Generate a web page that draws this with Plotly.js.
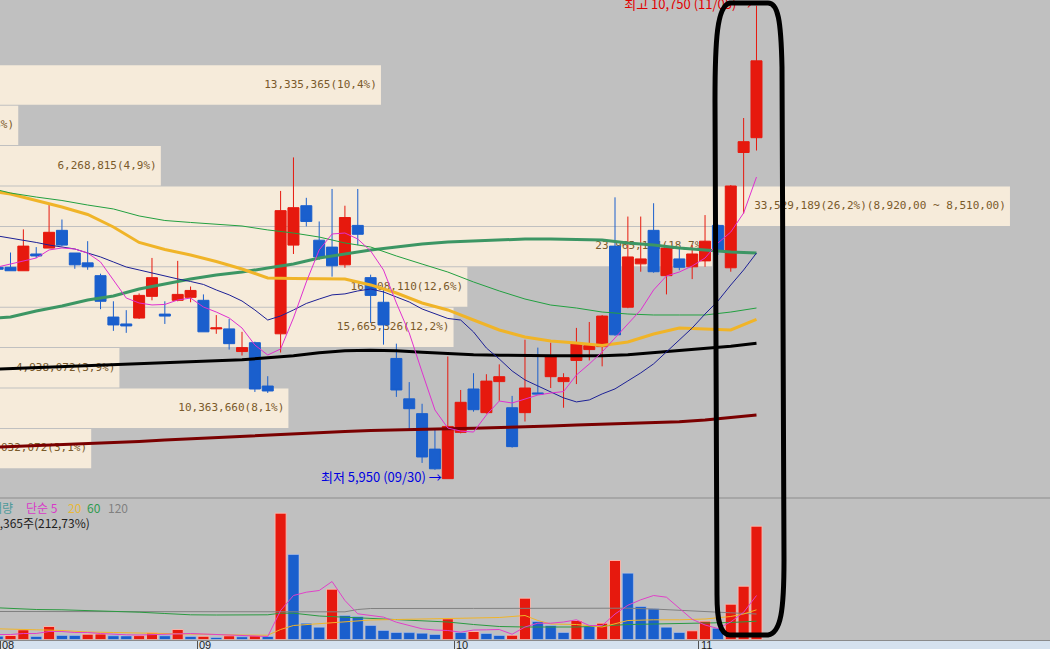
<!DOCTYPE html>
<html><head><meta charset="utf-8">
<script src="https://cdn.plot.ly/plotly-3.0.1.min.js"></script>
<style>html,body{margin:0;padding:0;background:#C0C0C0;overflow:hidden}#chart{width:1050px;height:649px}</style>
</head><body><div id="chart"></div>
<script>
// ---------- data ----------
const candleIdx = [-1,0,1,2,3,4,5,6,7,8,9,10,11,12,13,14,15,16,17,18,19,20,21,22,23,24,25,26,27,28,29,30,31,32,33,34,35,36,37,38,39,40,41,42,43,44,45,46,47,48,49,50,51,52,53,54,55,56,57,58];
const openP  = [8095,8095,8060,8230,8290,8470,8240,8140,8010,7590,7520,7580,7800,7620,7760,7790,7760,7470,7470,7240,7330,6890,7420,8320,8720,8370,8300,8120,8520,7990,7740,7170,6760,6610,6250,5950,6420,6860,6620,6935,6670,6620,6820,6985,6935,7150,7260,7290,8310,7690,8130,8470,8010,8180,8100,8160,8520,8090,9260,9410];
const highP  = [8110,8245,8480,8300,8730,8580,8240,8360,8030,7750,7660,7830,8190,7750,8160,7900,7820,7610,7570,7440,7340,6990,8870,9210,8800,8560,8890,8720,8890,8020,7870,7320,6930,6710,6460,7190,6850,7020,7010,7110,6790,7360,7280,7330,7020,7480,7540,7610,8805,8610,8610,8745,8290,8290,8320,8625,8530,8930,9610,10750];
const lowP   = [8060,8060,8060,8190,8290,8310,8080,8070,7670,7450,7430,7570,7760,7520,7750,7740,7440,7420,7260,7200,6830,6820,7230,8230,8510,8170,8000,8090,8320,7530,7310,6780,6450,6110,6040,5950,6410,6630,6610,6740,6265,6530,6810,6870,6670,6910,7150,7090,7400,7680,8050,8040,7820,8065,7975,8100,8220,8050,8640,9280];
const closeP = [8075,8060,8310,8210,8450,8320,8120,8100,7750,7510,7500,7810,7990,7600,7820,7860,7440,7480,7320,7280,6860,6840,8670,8700,8560,8200,8110,8600,8430,7810,7510,6850,6660,6170,6050,6480,6725,6650,6940,6985,6275,6870,6810,7190,6975,7330,7300,7600,7410,8200,8180,8050,8290,8095,8230,8360,8270,8920,9370,10190];
const volume = [376000,455600,1104900,341700,1480800,456000,452000,603700,626500,421400,410000,444200,763200,421400,1139000,341700,364500,227800,421400,307500,421400,341700,14386000,9681800,1856600,1401000,5729400,2733700,2619800,1594700,1025100,797300,785900,717600,569500,2357800,797300,911200,683400,455600,489800,4704200,2050300,1594700,797300,2164200,1480800,1856600,8998400,7551800,3758800,3496900,1401000,797300,991000,2084400,1287100,4020800,6066547,12905365];

// price moving averages
const ma5  = [8098,8128,8159,8189,8271,8291,8281,8240,8149,7966,7783,7733,7713,7718,7763,7783,7692,7641,7581,7479,7306,7205,7266,7581,7946,8271,8433,8443,8382,8261,8068,7733,7429,7032,6647,6464,6433,6423,6596,6738,6718,6758,6799,6819,6834,7002,7114,7236,7378,7530,7662,7865,8007,8047,8108,8189,8341,8453,8646,9011];
const ma10 = [8413,8392,8372,8347,8321,8301,8281,8240,8200,8149,8098,8068,8037,8002,7977,7951,7921,7865,7815,7753,7662,7560,7601,7662,7728,7773,7815,7825,7855,7875,7845,7794,7743,7672,7621,7576,7560,7439,7276,7165,7043,6952,6891,6830,6770,6729,6749,6810,6861,6942,7023,7115,7236,7348,7479,7621,7753,7915,8068,8240];
const maLongIdx = [-1,0,2,4,6,8,10,12,14,16,18,20,22,24,26,28,30,32,34,36,38,40,42,44,46,48,50,52,54,56,58];
const ma20  = [8859,8839,8773,8707,8631,8504,8347,8276,8220,8154,8078,7987,7982,7982,7977,7916,7834,7733,7662,7560,7459,7388,7348,7327,7302,7337,7418,7479,7469,7459,7567];
const ma40  = [8880,8849,8808,8773,8727,8687,8616,8570,8550,8534,8514,8474,8443,8402,8342,8301,8210,8128,8047,7946,7855,7773,7712,7682,7641,7621,7611,7611,7611,7641,7682];
const ma60  = [7580,7591,7651,7702,7763,7804,7875,7925,7976,8017,8047,8088,8128,8189,8230,8271,8301,8332,8352,8362,8372,8382,8382,8377,8372,8342,8321,8291,8271,8250,8240];
const ma120 = [7063,7068,7075,7082,7092,7107,7114,7127,7137,7142,7157,7177,7198,7228,7248,7253,7248,7233,7218,7208,7203,7198,7198,7198,7198,7208,7228,7248,7268,7294,7324];
const ma240 = [6271,6276,6284,6292,6302,6312,6328,6343,6356,6368,6381,6393,6406,6419,6429,6439,6447,6454,6457,6461,6467,6474,6484,6494,6502,6510,6519,6528,6545,6573,6596];

// volume moving averages
const vma5 = [570000,570000,683000,683000,911000,911000,797000,797000,683000,570000,535000,513000,570000,570000,683000,683000,626000,570000,456000,399000,399000,342000,3303000,5012000,5388000,5581000,6606000,4442000,2927000,2734000,2550000,1971000,1595000,1219000,1082000,1025000,831000,1082000,1105000,1139000,600000,1424000,1857000,1857000,1990000,2244000,1595000,1595000,2900000,3900000,4522000,5012000,4818000,3600000,2300000,1650000,1250000,2000000,3100000,5012000];
const vma20Idx = [-1,0,2,4,6,8,10,12,14,16,18,20,21,22,24,26,28,30,32,34,36,38,40,41,42,44,46,47,48,50,52,54,55,56,57,58];
const vma20 = [1219000,1162000,1105000,1025000,854000,797000,740000,649000,570000,535000,513000,490000,1139000,1595000,1822000,2050000,2221000,2278000,2335000,2358000,2449000,2506000,2734000,2164000,1765000,1709000,1424000,1822000,2164000,2244000,2244000,2335000,2449000,2620000,2904000,3383000];
const vma60Idx = [-1,0,2,4,6,8,10,12,14,16,18,20,21,22,24,26,28,30,32,34,36,38,40,42,44,46,48,50,52,54,56,58];
const vma60 = [3611000,3531000,3417000,3383000,3303000,3189000,3110000,2961000,2813000,2790000,2790000,2813000,2996000,2996000,2677000,2540000,2449000,2278000,2164000,1993000,1709000,1481000,1424000,1401000,1424000,1538000,1709000,1765000,1822000,1822000,1936000,2084000];
const vma120Idx = [-1,8,16,21,26,27,28,36,44,48,50,52,54,56,58];
const vma120 = [3189000,3189000,3180000,3160000,3150000,3420000,3530000,3540000,3565000,3565000,3470000,3300000,3189000,3040000,2904000];

// volume profile (price bands)
const bandTop    = [10150,9740,9330,8920,8510,8100,7690,7280,6870,6460];
const bandSize   = 410;
const profileVol = [13335365,1690000,6268815,33529189,23965184,16108110,15665326,4938072,10363660,4032072];
const profilePct = ['10,4','1,3','4,9','26,2','18,7','12,6','12,2','3,9','8,1','3,1'];

// month ticks
const monthLabels = ['08','09','10','11'];
const monthStart  = [-0.8,14.5,34.5,53.5];

// extremes
const hiDate = '11/05', loDate = '09/30';
const lastVolPct = '212,73';

// ---------- helpers ----------
const RED = '#E6190E', BLUE = '#1A5FCD';
const fmt = n => Math.round(n).toString().replace(/\B(?=(\d{3})+(?!\d))/g, ',');
const W = 1050, H = 649;
const P = (x, y) => (x / W).toFixed(5) + ',' + (1 - y / H).toFixed(5);

const bandCenter = bandTop.map(t => t - bandSize / 2);
const maxBand = profileVol.indexOf(Math.max(...profileVol));
const profileText = profileVol.map((v, i) => {
  let s = fmt(v) + '(' + profilePct[i] + '%)';
  if (i === maxBand) s += '(' + fmt(bandTop[i]) + ',00 ~ ' + fmt(bandTop[i] - bandSize) + ',00)';
  return s;
});

const volColors = volume.map((v, i) => (i > 0 && v > volume[i - 1]) ? RED : BLUE);
const volLine = volColors.map(c => c === RED ? 'rgba(255,190,180,0.85)' : 'rgba(190,205,245,0.5)');

const hiVal = Math.max(...highP), hiI = candleIdx[highP.indexOf(hiVal)];
const loVal = Math.min(...lowP), loI = candleIdx[lowP.indexOf(loVal)];

// ---------- traces ----------
const traces = [];
// base subplot: volume profile
traces.push({type:'bar', orientation:'h', x:profileVol, y:bandCenter, width:bandSize - 10,
  xaxis:'x', yaxis:'y', marker:{color:'#F6EBDA', line:{width:0}}, hoverinfo:'skip'});
traces.push({type:'scatter', mode:'markers+text', x:profileVol, y:bandCenter, text:profileText,
  textposition:'middle left', xaxis:'x', yaxis:'y', marker:{size:5, color:'rgba(0,0,0,0)'},
  textfont:{family:'DejaVu Sans Mono', size:11, color:'#7A5A2A'}, hoverinfo:'skip'});

// overlay subplot: candles + MAs
traces.push({type:'candlestick', x:candleIdx, open:openP, high:highP, low:lowP, close:closeP,
  xaxis:'x2', yaxis:'y', whiskerwidth:0,
  increasing:{line:{color:RED, width:1}, fillcolor:RED},
  decreasing:{line:{color:BLUE, width:1}, fillcolor:BLUE}, hoverinfo:'skip'});
const line = (x, y, color, width, xa, ya) => ({type:'scatter', mode:'lines', x, y, xaxis:xa, yaxis:ya,
  line:{color, width}, hoverinfo:'skip'});
traces.push(line(maLongIdx, ma240, '#7A0000', 3, 'x2', 'y'));
traces.push(line(maLongIdx, ma120, '#000000', 3, 'x2', 'y'));
traces.push(line(maLongIdx, ma60,  '#3C9664', 3, 'x2', 'y'));
traces.push(line(maLongIdx, ma20,  '#F0B428', 3, 'x2', 'y'));
traces.push(line(maLongIdx, ma40,  '#22A040', 1, 'x2', 'y'));
traces.push(line(candleIdx, ma10,  '#1C2096', 1, 'x2', 'y'));
traces.push(line(candleIdx, ma5,   '#E030D0', 1, 'x2', 'y'));
traces.push({type:'scatter', mode:'markers+text', x:[hiI], y:[hiVal],
  text:['최고 ' + fmt(hiVal) + ' (' + hiDate + ') →'], textposition:'middle left',
  marker:{size:5, color:'rgba(0,0,0,0)'}, xaxis:'x2', yaxis:'y',
  textfont:{family:'Noto Sans CJK KR', size:13, color:'#E00000'}, hoverinfo:'skip'});
traces.push({type:'scatter', mode:'markers+text', x:[loI], y:[loVal],
  text:['최저 ' + fmt(loVal) + ' (' + loDate + ') →'], textposition:'middle left',
  marker:{size:8, color:'rgba(0,0,0,0)'}, xaxis:'x2', yaxis:'y',
  textfont:{family:'Noto Sans CJK KR', size:13, color:'#0000E0'}, hoverinfo:'skip'});

// volume subplot
traces.push({type:'bar', x:candleIdx, y:volume, width:0.86, xaxis:'x3', yaxis:'y3',
  marker:{color:volColors, line:{color:volLine, width:1}}, hoverinfo:'skip'});
traces.push(line(vma120Idx, vma120, '#808080', 1, 'x3', 'y3'));
traces.push(line(vma60Idx, vma60, '#2A9A40', 1, 'x3', 'y3'));
traces.push(line(vma20Idx, vma20, '#F0B428', 1, 'x3', 'y3'));
traces.push(line(candleIdx, vma5, '#E040C8', 1, 'x3', 'y3'));

// ---------- layout ----------
const idxRange = [-0.8164, 80.82];
const annotations = monthLabels.map((m, i) => ({xref:'x3', x:monthStart[i], yref:'paper', y:4/H,
  xanchor:'left', yanchor:'middle', text:m, showarrow:false,
  font:{family:'Liberation Sans', size:11, color:'#1E1E1E'}}));
const legendFont = {family:'Noto Sans CJK KR', size:12};
const ly1 = (H - 507) / H, ly2 = (H - 522) / H;
annotations.push({xref:'paper', yref:'paper', x:15/W, y:ly1, xanchor:'right', yanchor:'middle', showarrow:false, text:'거래량', font:Object.assign({color:'#4E9A9A'}, legendFont)});
annotations.push({xref:'paper', yref:'paper', x:24/W, y:ly1, xanchor:'left', yanchor:'middle', showarrow:false, text:'단순 5', font:Object.assign({color:'#D838C8'}, legendFont)});
annotations.push({xref:'paper', yref:'paper', x:66/W, y:ly1, xanchor:'left', yanchor:'middle', showarrow:false, text:'20', font:Object.assign({color:'#E8B838'}, legendFont)});
annotations.push({xref:'paper', yref:'paper', x:85/W, y:ly1, xanchor:'left', yanchor:'middle', showarrow:false, text:'60', font:Object.assign({color:'#2E9A4E'}, legendFont)});
annotations.push({xref:'paper', yref:'paper', x:106/W, y:ly1, xanchor:'left', yanchor:'middle', showarrow:false, text:'120', font:Object.assign({color:'#808080'}, legendFont)});
annotations.push({xref:'paper', yref:'paper', x:92/W, y:ly2, xanchor:'right', yanchor:'middle', showarrow:false,
  text: fmt(volume[volume.length - 1]) + '주(' + lastVolPct + '%)', font:Object.assign({color:'#202020'}, legendFont)});

const ellipse = 'M' + P(715,100) + ' C' + P(715,40) + ' ' + P(717,5) + ' ' + P(730,3) +
  ' L' + P(768,3) + ' C' + P(778,3) + ' ' + P(781,20) + ' ' + P(782,67) +
  ' L' + P(784,560) + ' C' + P(784,610) + ' ' + P(781,633) + ' ' + P(768,635) +
  ' L' + P(730,635) + ' C' + P(720,635) + ' ' + P(717,620) + ' ' + P(717,595) + ' Z';

const layout = {
  width: W, height: H, margin:{l:0, r:0, t:0, b:0, pad:0},
  paper_bgcolor:'#C0C0C0', plot_bgcolor:'rgba(0,0,0,0)',
  showlegend:false, hovermode:false, boxgap:0.145, boxgroupgap:0,
  font:{family:'Liberation Sans, Noto Sans CJK KR'},
  xaxis:{domain:[0,1], range:[1104400, 34814400], visible:false, anchor:'y', fixedrange:true},
  yaxis:{domain:[152/H, 1], range:[5764, 10807.5], visible:false, fixedrange:true},
  xaxis2:{overlaying:'x', anchor:'y', range:idxRange, visible:false, rangeslider:{visible:false}, fixedrange:true},
  xaxis3:{anchor:'y3', domain:[0,1], range:idxRange, showgrid:false, zeroline:false, showline:true,
    linecolor:'#8A8A8A', linewidth:1, ticks:'outside', ticklen:9, tickwidth:1, tickcolor:'#505050',
    tickvals:monthStart, showticklabels:false, fixedrange:true},
  yaxis3:{domain:[9.5/H, 151/H], range:[0, 16117000], visible:false, fixedrange:true},
  shapes:[
    {type:'rect', xref:'paper', yref:'paper', x0:0, x1:1, y0:0, y1:9/H, fillcolor:'#D5E1EE', line:{width:0}, layer:'below'},
    {type:'line', xref:'paper', yref:'paper', x0:0, x1:1, y0:151/H, y1:151/H, line:{color:'#8C8C8C', width:1}},
    {type:'path', xref:'paper', yref:'paper', path:ellipse, line:{color:'#000000', width:5}, fillcolor:'rgba(0,0,0,0)', layer:'above'}
  ],
  annotations
};

Plotly.newPlot('chart', traces, layout, {staticPlot:true, displayModeBar:false});
</script>
</body></html>
